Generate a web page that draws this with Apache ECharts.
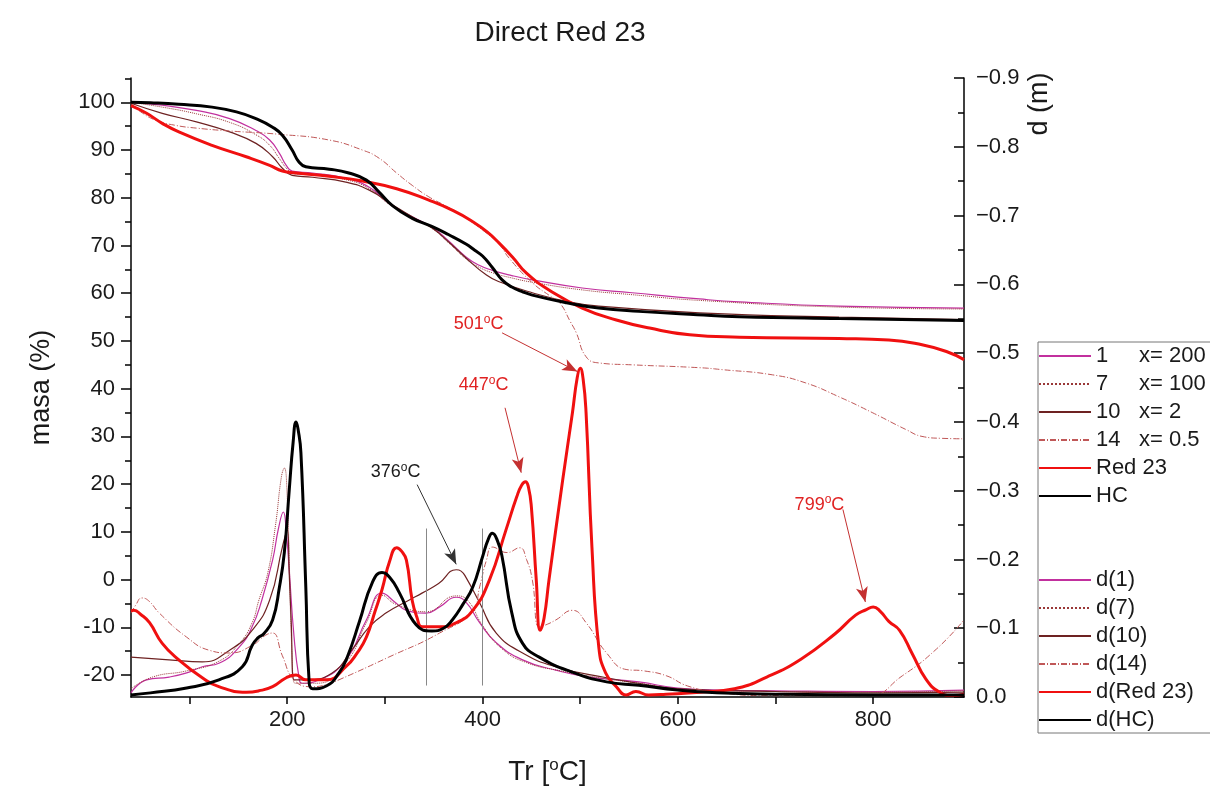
<!DOCTYPE html>
<html>
<head>
<meta charset="utf-8">
<title>Direct Red 23</title>
<script src="https://cdn.jsdelivr.net/npm/echarts@6.0.0/dist/echarts.min.js"></script>
<style>
  html, body { margin: 0; padding: 0; background: #fff; }
  #chart { width: 1210px; height: 796px; }
</style>
</head>
<body>
<div id="chart"></div>
<script>
// TG curves, [temperature, mass %]
const massS1 = [[40,100],[72,99.4],[107,98.3],[141,96.6],[168,94.1],[182,92.1],[192,89.3],[199,86.8],[205,85.6],[226,85.2],[260,84.1],[284,82.2],[304,78.9],[328,76.0],[348,73.9],[365,71.0],[383,67.6],[396,65.9],[410,64.8],[430,63.7],[451,62.8],[502,61.1],[553,60.1],[622,58.8],[663,58.2],[765,57.3],[893,56.9]];
const massS7 = [[40,100],[72,99.0],[107,97.6],[141,95.8],[168,93.2],[182,91.0],[192,88.2],[200,86.0],[207,85.0],[226,84.8],[260,83.8],[284,81.9],[304,78.7],[328,75.8],[348,73.6],[365,70.6],[383,67.2],[396,65.5],[410,64.3],[430,63.2],[451,62.3],[502,60.7],[553,59.7],[622,58.5],[765,57.1],[893,56.7]];
const massS10 = [[40,99.8],[72,97.7],[107,95.9],[141,93.8],[168,91.4],[185,88.6],[195,86.2],[205,84.7],[226,84.3],[260,83.3],[284,81.6],[308,78.5],[328,76.0],[348,73.7],[365,70.8],[383,67.4],[404,63.8],[417,62.4],[451,60.1],[486,58.3],[519,57.3],[622,55.9],[765,55.0],[893,54.5]];
const massS14 = [[40,99.8],[50,98.0],[66,96.2],[85,95.2],[107,94.6],[141,94.0],[192,93.3],[243,92.1],[277,90.0],[294,88.3],[312,85.2],[328,82.6],[345,80.2],[365,78.0],[385,75.5],[404,72.6],[417,70.3],[427,67.4],[451,62.2],[470,59.3],[479,58.0],[490,54.0],[496,51.7],[506,46.7],[519,45.4],[553,45.0],[622,44.4],[645,44.0],[697,42.9],[731,41.2],[765,38.3],[799,35.0],[834,31.4],[850,30.0],[870,29.6],[893,29.5]];
const massRed = [[40,99.3],[56,97.7],[72,95.6],[89,93.8],[123,91.0],[158,88.6],[182,86.8],[195,85.6],[209,85.2],[243,84.5],[277,83.5],[312,81.9],[345,79.5],[370,77.3],[390,75.0],[405,72.8],[417,70.5],[431,67.5],[445,64.2],[468,60.7],[502,56.9],[537,54.4],[571,52.7],[612,51.3],[663,50.8],[765,50.5],[816,50.2],[850,49.2],[875,47.8],[893,46.1]];
const massHC = [[40,100],[60,99.9],[89,99.6],[123,99.0],[148,98.0],[168,96.6],[185,94.8],[195,93.1],[205,90.0],[212,87.5],[219,86.5],[243,86.0],[263,85.2],[281,83.7],[294,81.2],[308,78.3],[328,75.7],[348,74.0],[365,72.3],[383,70.3],[392,69.0],[400,67.8],[410,65.4],[420,62.8],[430,61.3],[440,60.4],[451,59.6],[486,58.0],[519,56.9],[560,56.2],[620,55.5],[663,55.1],[765,54.7],[893,54.3]];

// derivative curves, [temperature, d]
const dS1 = [[40,-0.006],[56,-0.025],[79,-0.029],[97,-0.035],[113,-0.044],[130,-0.049],[151,-0.073],[164,-0.102],[174,-0.141],[185,-0.199],[191,-0.245],[196,-0.269],[199,-0.24],[202,-0.185],[207,-0.087],[212,-0.029],[215,-0.020],[233,-0.025],[260,-0.054],[281,-0.112],[297,-0.151],[311,-0.137],[322,-0.126],[342,-0.122],[356,-0.131],[373,-0.145],[383,-0.138],[397,-0.108],[414,-0.079],[441,-0.054],[475,-0.039],[509,-0.029],[560,-0.022],[600,-0.013],[650,-0.010],[700,-0.009],[800,-0.008],[893,-0.010]];
const dS7 = [[40,-0.012],[62,-0.029],[97,-0.038],[130,-0.052],[151,-0.078],[164,-0.108],[171,-0.141],[180,-0.18],[188,-0.25],[194,-0.32],[197,-0.333],[200,-0.29],[202,-0.2],[205,-0.06],[208,-0.02],[230,-0.02],[260,-0.05],[281,-0.108],[297,-0.148],[311,-0.135],[342,-0.124],[373,-0.147],[385,-0.14],[400,-0.104],[420,-0.07],[445,-0.05],[480,-0.038],[520,-0.028],[560,-0.02],[600,-0.012],[700,-0.008],[800,-0.007],[893,-0.009]];
const dS10 = [[40,-0.058],[79,-0.054],[113,-0.051],[141,-0.068],[164,-0.097],[182,-0.141],[195,-0.218],[200,-0.243],[202,-0.18],[204,-0.112],[207,-0.025],[219,-0.025],[246,-0.035],[266,-0.068],[284,-0.102],[301,-0.122],[325,-0.141],[338,-0.151],[355,-0.165],[373,-0.185],[378,-0.183],[383,-0.174],[397,-0.137],[414,-0.093],[441,-0.064],[475,-0.044],[527,-0.028],[560,-0.020],[600,-0.012],[700,-0.008],[800,-0.006],[893,-0.007]];
const dS14 = [[40,-0.122],[45,-0.134],[51,-0.144],[58,-0.140],[69,-0.122],[97,-0.087],[120,-0.068],[141,-0.064],[164,-0.075],[178,-0.09],[185,-0.093],[195,-0.06],[207,-0.025],[225,-0.015],[240,-0.018],[253,-0.025],[304,-0.058],[356,-0.093],[390,-0.126],[397,-0.16],[404,-0.199],[410,-0.218],[425,-0.21],[438,-0.217],[445,-0.2],[451,-0.170],[458,-0.102],[465,-0.105],[475,-0.112],[492,-0.126],[506,-0.108],[527,-0.064],[547,-0.040],[565,-0.038],[588,-0.031],[610,-0.016],[640,-0.007],[691,-0.002],[795,-0.002],[830,-0.031],[865,-0.070],[893,-0.112]];
const dRed = [[40,-0.125],[43,-0.126],[50,-0.12],[59,-0.108],[72,-0.078],[89,-0.054],[113,-0.028],[130,-0.015],[158,-0.007],[171,-0.009],[185,-0.015],[199,-0.028],[209,-0.032],[219,-0.025],[240,-0.025],[260,-0.044],[272,-0.065],[281,-0.087],[290,-0.125],[297,-0.156],[305,-0.198],[312,-0.217],[317,-0.212],[322,-0.199],[328,-0.14],[333,-0.115],[338,-0.102],[356,-0.102],[373,-0.108],[390,-0.126],[407,-0.170],[424,-0.243],[435,-0.291],[440,-0.308],[444,-0.313],[447,-0.305],[450,-0.276],[455,-0.170],[459,-0.097],[463,-0.115],[468,-0.170],[482,-0.315],[492,-0.413],[497,-0.465],[500,-0.478],[503,-0.462],[506,-0.413],[512,-0.218],[519,-0.073],[526,-0.035],[537,-0.015],[547,-0.003],[557,-0.008],[570,-0.003],[588,-0.004],[623,-0.007],[658,-0.012],[691,-0.029],[726,-0.055],[761,-0.092],[782,-0.119],[793,-0.127],[800,-0.131],[807,-0.125],[816,-0.110],[827,-0.097],[840,-0.063],[854,-0.026],[868,-0.007],[882,-0.002],[893,-0.004]];
const dHC = [[40,-0.003],[60,-0.006],[97,-0.013],[130,-0.025],[154,-0.044],[164,-0.075],[170,-0.086],[176,-0.092],[185,-0.112],[192,-0.16],[197,-0.21],[202,-0.30],[206,-0.37],[209,-0.40],[211,-0.39],[214,-0.355],[219,-0.16],[222.5,-0.02],[226,-0.012],[240,-0.016],[253,-0.035],[262,-0.06],[274,-0.11],[287,-0.166],[297,-0.181],[306,-0.172],[315,-0.151],[332,-0.105],[348,-0.096],[360,-0.100],[369,-0.112],[380,-0.135],[390,-0.160],[400,-0.204],[406,-0.230],[410,-0.238],[415,-0.228],[420,-0.204],[430,-0.122],[441,-0.078],[458,-0.058],[492,-0.036],[527,-0.022],[560,-0.017],[600,-0.010],[640,-0.006],[700,-0.004],[800,-0.003],[893,-0.003]];

const sampleIds = ['1', '7', '10', '14'];
const sampleX = ['x= 200', 'x= 100', 'x= 2', 'x= 0.5'];

const xLabels = [200, 400, 600, 800];
const xTicks = [100, 200, 300, 400, 500, 600, 700, 800];
const massLabels = [-20, -10, 0, 10, 20, 30, 40, 50, 60, 70, 80, 90, 100];
const massMinor = [-15, -5, 5, 15, 25, 35, 45, 55, 65, 75, 85, 95, 105];

// peak annotations: label, text position, arrow start, arrow tip
const peakNotes = [
  { t: '376', text: [311, 22.6], from: [333, 19.9], to: [373, 3.2], color: '#1a1a1a' },
  { t: '447', text: [401, 40.8], from: [423, 36.0], to: [439.6, 22.4], color: '#e02222' },
  { t: '501', text: [396, 53.6], from: [420, 51.7], to: [497, 43.6], color: '#e02222' },
  { t: '799', text: [745, 15.7], from: [769, 14.7], to: [792, -4.7], color: '#e02222' }
];
const markerLines = [342, 400];

const FONT = "'Liberation Sans', Arial, sans-serif";
const INK = '#1a1a1a';

const chart = echarts.init(document.getElementById('chart'));

function curve(name, data, axis, color, width, type, z) {
  return {
    name: name,
    type: 'line',
    yAxisIndex: axis,
    data: data,
    symbol: 'none',
    smooth: 0.5,
    z: z,
    lineStyle: { color: color, width: width, type: type },
    itemStyle: { color: color },
    emphasis: { disabled: true }
  };
}

const dashDot = [6, 2, 1, 2];

const hcMass = curve('HC', massHC, 0, '#000', 3, 'solid', 6);
hcMass.markLine = {
  silent: true,
  symbol: ['none', 'none'],
  label: { show: false },
  data: markerLines.map(t => [
    { coord: [t, 10.7], lineStyle: { color: '#888', width: 1, type: 'solid' } },
    { coord: [t, -22.2] }
  ]).concat(peakNotes.map(n => [
    { coord: n.from, symbol: 'none', lineStyle: { color: n.color === INK ? '#333' : '#c43030', width: 1, type: 'solid' } },
    { coord: n.to, symbol: 'arrow', symbolSize: [9, 15], itemStyle: { color: n.color } }
  ]))
};
hcMass.markPoint = {
  silent: true,
  symbol: 'circle',
  symbolSize: 0,
  data: peakNotes.map(n => ({
    coord: n.text,
    value: n.t,
    label: {
      show: true,
      position: 'inside',
      color: n.color,
      fontSize: 18,
      fontFamily: FONT,
      formatter: p => p.value + '{sup|o}C',
      rich: { sup: { fontSize: 12, fontFamily: FONT, color: n.color, padding: [0, 0, 9, 0] } }
    }
  }))
};

const series = [
  curve('1', massS1, 0, '#c2309e', 1.2, 'solid', 2),
  curve('7', massS7, 0, '#9a3838', 1, 'dotted', 2),
  curve('10', massS10, 0, '#6e2222', 1.2, 'solid', 2),
  curve('14', massS14, 0, '#c05858', 1, dashDot, 2),
  curve('Red 23', massRed, 0, '#f01010', 3, 'solid', 5),
  hcMass,
  curve('d(1)', dS1, 1, '#c2309e', 1.2, 'solid', 2),
  curve('d(7)', dS7, 1, '#9a3838', 1, 'dotted', 2),
  curve('d(10)', dS10, 1, '#6e2222', 1.2, 'solid', 2),
  curve('d(14)', dS14, 1, '#c05858', 1, dashDot, 2),
  curve('d(Red 23)', dRed, 1, '#f01010', 3, 'solid', 5),
  curve('d(HC)', dHC, 1, '#000', 3, 'solid', 6)
];

const axisLine = { show: true, onZero: false, lineStyle: { color: '#000', width: 1.5 } };
const tickLine = { color: '#000', width: 1.5 };
const labelStyle = { fontSize: 22, color: INK, fontFamily: FONT };

function legendBlock(names, top) {
  return {
    data: names,
    orient: 'vertical',
    left: 1038,
    top: top,
    padding: 0,
    itemWidth: 52,
    itemHeight: 14,
    itemGap: 6,
    selectedMode: false,
    itemStyle: { opacity: 0 },
    textStyle: {
      fontSize: 22, lineHeight: 22, color: INK, fontFamily: FONT,
      rich: {
        id: { width: 43, fontSize: 22, fontFamily: FONT, color: INK },
        x: { fontSize: 22, fontFamily: FONT, color: INK }
      }
    },
    formatter: name => {
      const i = sampleIds.indexOf(name);
      return i >= 0 ? '{id|' + name + '}{x|' + sampleX[i] + '}' : name;
    }
  };
}

const option = {
  animation: false,
  backgroundColor: '#fff',
  title: {
    text: 'Direct Red 23',
    left: 555,
    top: 14,
    textAlign: 'center',
    textStyle: { fontSize: 28, fontWeight: 'normal', color: INK, fontFamily: FONT }
  },
  legend: [
    legendBlock(['1', '7', '10', '14', 'Red 23', 'HC'], 345),
    legendBlock(['d(1)', 'd(7)', 'd(10)', 'd(14)', 'd(Red 23)', 'd(HC)'], 569)
  ],
  grid: { left: 131, right: 246, top: 78, bottom: 99 },
  xAxis: {
    type: 'value',
    min: 40,
    max: 893,
    axisLine: axisLine,
    axisTick: { show: true, customValues: xTicks, length: 7, lineStyle: tickLine },
    axisLabel: Object.assign({ customValues: xLabels, margin: 12 }, labelStyle),
    splitLine: { show: false },
    name: 'Tr [{sup|o}C]',
    nameLocation: 'middle',
    nameGap: 60,
    nameTextStyle: {
      fontSize: 28, color: INK, fontFamily: FONT,
      rich: { sup: { fontSize: 17, fontFamily: FONT, color: INK, padding: [0, 0, 13, 0] } }
    }
  },
  yAxis: [
    {
      type: 'value',
      position: 'left',
      min: -24.6,
      max: 105.1,
      axisLine: axisLine,
      axisTick: { show: true, customValues: massLabels, length: 10, lineStyle: tickLine },
      axisLabel: Object.assign({ customValues: massLabels, margin: 16 }, labelStyle),
      splitLine: { show: false },
      name: 'masa (%)',
      nameLocation: 'middle',
      nameGap: 76,
      nameTextStyle: { fontSize: 27, color: INK, fontFamily: FONT }
    },
    {
      type: 'value',
      position: 'right',
      inverse: true,
      min: -0.9,
      max: 0,
      interval: 0.1,
      axisLine: axisLine,
      axisTick: { show: true, inside: true, length: 10, lineStyle: tickLine },
      minorTick: { show: true, splitNumber: 2, length: 6, lineStyle: tickLine },
      axisLabel: Object.assign({
        margin: 12,
        formatter: v => Math.abs(v) < 1e-9 ? '0.0' : '\u2212' + Math.abs(v).toFixed(1)
      }, labelStyle),
      splitLine: { show: false },
      minorSplitLine: { show: false }
    },
    {
      // minor ticks of the mass axis
      type: 'value',
      position: 'left',
      min: -24.6,
      max: 105.1,
      axisLine: { show: false },
      axisTick: { show: true, customValues: massMinor, length: 6, lineStyle: tickLine },
      axisLabel: { show: false },
      splitLine: { show: false }
    }
  ],
  graphic: [
    {
      type: 'rect',
      silent: true,
      shape: { x: 1038, y: 342, width: 200, height: 391 },
      style: { fill: 'none', stroke: '#777', lineWidth: 1 }
    },
    {
      type: 'text',
      silent: true,
      x: 1040,
      y: 104,
      rotation: Math.PI / 2,
      style: { text: 'd (m)', font: '27px ' + FONT, fill: INK, align: 'center', verticalAlign: 'middle' }
    }
  ],
  series: series
};

chart.setOption(option);
</script>
</body>
</html>
